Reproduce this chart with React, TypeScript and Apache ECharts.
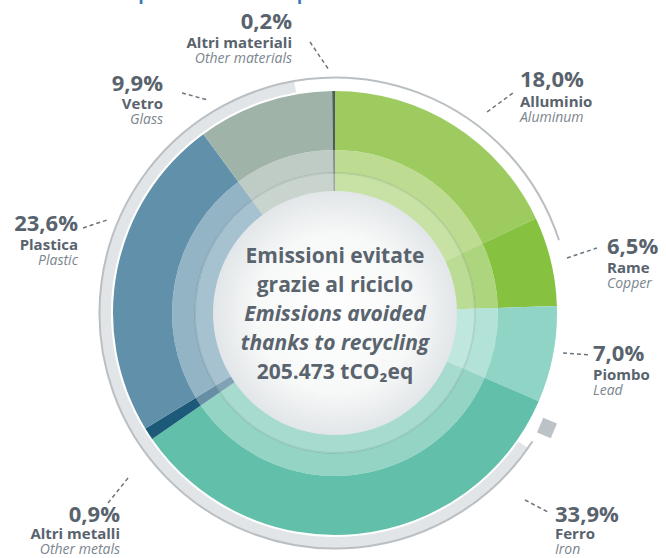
import React, { useEffect, useRef } from "react";
import * as echarts from "echarts";

// ---- data ----
const CATEGORIES_IT = ["Alluminio", "Rame", "Piombo", "Ferro", "Altri metalli", "Plastica", "Vetro", "Altri materiali"];
const CATEGORIES_EN = ["Aluminum", "Copper", "Lead", "Iron", "Other metals", "Plastic", "Glass", "Other materials"];
const SHARES = [18.0, 6.5, 7.0, 33.9, 0.9, 23.6, 9.9, 0.2];
const CENTER_LINES_IT = ["Emissioni evitate", "grazie al riciclo"];
const CENTER_LINES_EN = ["Emissions avoided", "thanks to recycling"];
const TOTAL_TEXT = "205.473 tCO₂eq";
const TITLE_PARTS = ["CO₂", "per", ", per"];

// ---- styles / layout ----
const COLORS = ["#9dcb5f", "#86c140", "#8fd4c5", "#62bfaa", "#1d5a7a", "#6090aa", "#a0b3a9", "#4e5c5e"];
const CX = 335;
const CY = 313;
const TITLE_X = [50, 137, 279];
// label layout: [anchorX, pctY, nameDy, enDy, align, dash x1,y1,x2,y2]
const LABEL_LAYOUT: [number, number, number, number, string, number, number, number, number][] = [
  [520, 78, 23, 38, "left", 487, 112, 513, 93],
  [607, 245, 22, 37, "left", 567, 258, 597, 248],
  [593, 352, 22, 37, "left", 563, 353, 590, 355],
  [555, 513, 20, 35, "left", 525, 500, 548, 512],
  [120, 513, 20, 35, "right", 108, 503, 128, 478],
  [78, 222, 22, 37, "right", 83, 228, 107, 220],
  [163, 82, 21, 36, "right", 182, 93, 208, 100],
  [292, 20, 22, 37, "right", 310, 42, 329, 70],
];

const FONT = '"Open Sans", "Noto Sans", sans-serif';
const TEXT_DARK = "#59636d";
const TEXT_LIGHT = "#7b858e";

function deg(t: number) {
  return ((t - 90) * Math.PI) / 180;
}

function fmtPct(v: number) {
  return v.toFixed(1).replace(".", ",") + "%";
}

export default function App() {
  const ref = useRef<HTMLDivElement>(null);
  useEffect(() => {
    if (!ref.current) return;
    const chart = echarts.init(ref.current, undefined, { renderer: "svg" });

    const mkData = () =>
      SHARES.map((v, i) => ({ value: v, name: CATEGORIES_IT[i], itemStyle: { color: COLORS[i] } }));

    const graphics: any[] = [];
    // partial title at top (cut off by the picture's edge)
    TITLE_PARTS.forEach((t, i) => {
      graphics.push({
        type: "text",
        x: TITLE_X[i],
        y: -1,
        z: 5,
        style: {
          text: t,
          fill: "#3b78b3",
          font: `32px ${FONT}`,
          align: "left",
          verticalAlign: "bottom",
        },
      });
    });
    // outer gray rings
    graphics.push({
      type: "arc",
      z: 1,
      shape: { cx: CX, cy: CY, r: 229.5, startAngle: deg(125), endAngle: deg(350), clockwise: true },
      style: { stroke: "#e2e5e7", lineWidth: 11, fill: null },
    });
    graphics.push({
      type: "arc",
      z: 1,
      shape: { cx: CX, cy: CY, r: 235.5, startAngle: deg(123), endAngle: deg(432), clockwise: true },
      style: { stroke: "#b9bfc3", lineWidth: 2, fill: null },
    });
    graphics.push({
      type: "rect",
      x: 547,
      y: 428,
      rotation: -0.4,
      z: 1,
      shape: { x: -7.5, y: -8, width: 15, height: 16 },
      style: { fill: "#bcc3c7" },
    });
    // inner thin ring line
    graphics.push({
      type: "circle",
      z: 9,
      shape: { cx: CX, cy: CY, r: 140 },
      style: { stroke: "rgba(40,60,70,0.10)", lineWidth: 2, fill: null },
    });
    // center disk
    graphics.push({
      type: "circle",
      z: 10,
      shape: { cx: CX, cy: CY, r: 122 },
      style: {
        fill: new echarts.graphic.RadialGradient(0.5, 0.5, 0.5, [
          { offset: 0, color: "#ffffff" },
          { offset: 0.65, color: "#f7f8f8" },
          { offset: 1, color: "#e2e6e8" },
        ]),
      },
    });
    const centerLines = [
      { t: CENTER_LINES_IT[0], it: false },
      { t: CENTER_LINES_IT[1], it: false },
      { t: CENTER_LINES_EN[0], it: true },
      { t: CENTER_LINES_EN[1], it: true },
      { t: TOTAL_TEXT, it: false },
    ];
    centerLines.forEach((l, i) => {
      graphics.push({
        type: "text",
        x: CX,
        y: 255 + i * 29,
        z: 11,
        style: {
          text: l.t,
          fill: "#5a646e",
          font: `${l.it ? "italic " : ""}bold 21px ${FONT}`,
          align: "center",
          verticalAlign: "middle",
        },
      });
    });
    // labels
    SHARES.forEach((v, i) => {
      const [ax, py, nd, ed, align, x1, y1, x2, y2] = LABEL_LAYOUT[i];
      graphics.push({
        type: "text",
        x: ax,
        y: py,
        z: 11,
        style: { text: fmtPct(v), fill: TEXT_DARK, font: `bold 22px ${FONT}`, align, verticalAlign: "middle" },
      });
      graphics.push({
        type: "text",
        x: ax,
        y: py + nd,
        z: 11,
        style: { text: CATEGORIES_IT[i], fill: TEXT_DARK, font: `bold 15px ${FONT}`, align, verticalAlign: "middle" },
      });
      graphics.push({
        type: "text",
        x: ax,
        y: py + ed,
        z: 11,
        style: { text: CATEGORIES_EN[i], fill: TEXT_LIGHT, font: `italic 14px ${FONT}`, align, verticalAlign: "middle" },
      });
      graphics.push({
        type: "line",
        z: 11,
        shape: { x1, y1, x2, y2 },
        style: { stroke: "#6b747c", lineWidth: 1.5, lineDash: [4, 3] },
      });
    });

    chart.setOption({
      animation: false,
      backgroundColor: "#ffffff",
      series: [
        {
          type: "pie",
          radius: [163, 222],
          center: [CX, CY],
          startAngle: 90,
          clockwise: true,
          silent: true,
          label: { show: false },
          labelLine: { show: false },
          data: mkData(),
        },
        {
          type: "pie",
          radius: [140, 163],
          center: [CX, CY],
          startAngle: 90,
          clockwise: true,
          silent: true,
          label: { show: false },
          labelLine: { show: false },
          itemStyle: { opacity: 0.68 },
          data: mkData(),
        },
        {
          type: "pie",
          radius: [115, 140],
          center: [CX, CY],
          startAngle: 90,
          clockwise: true,
          silent: true,
          label: { show: false },
          labelLine: { show: false },
          itemStyle: { opacity: 0.56 },
          data: mkData(),
        },
      ],
      graphic: { elements: graphics },
    });
    return () => chart.dispose();
  }, []);
  return (
    <div
      ref={ref}
      style={{ position: "fixed", left: 0, top: 0, width: 666, height: 558, background: "#fff" }}
    />
  );
}
